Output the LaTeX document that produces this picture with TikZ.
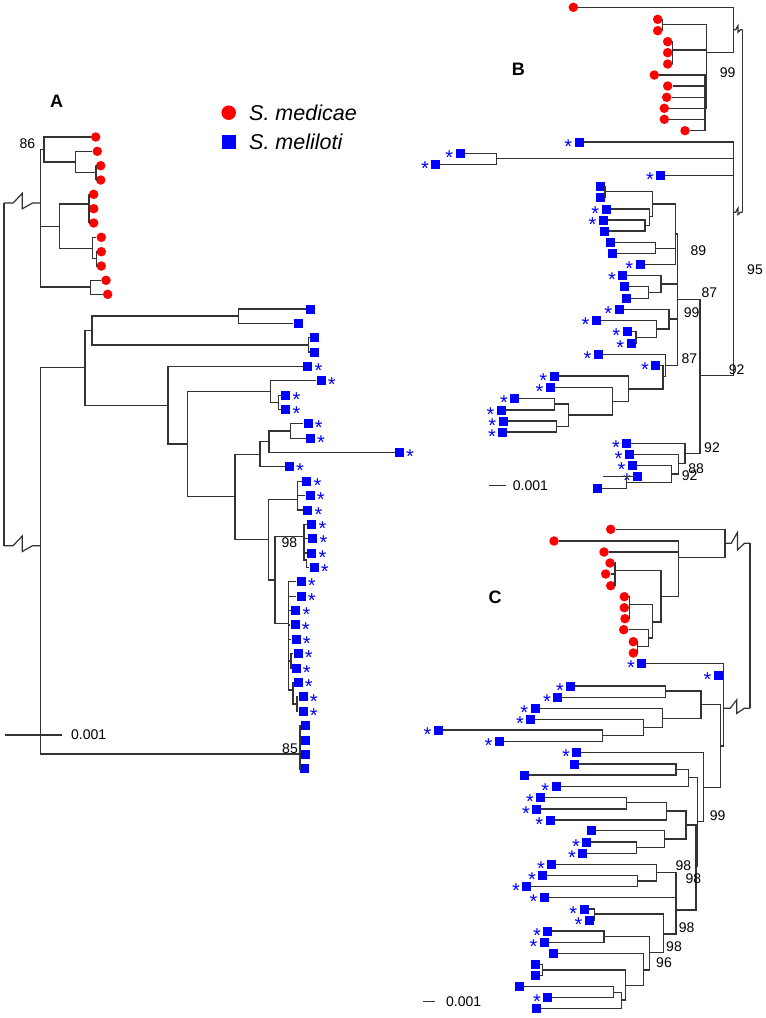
\documentclass[tikz,border=0pt]{standalone}
\usepackage{fontspec}
\setmainfont{Liberation Sans}
\usetikzlibrary{calc}
\newcommand\astx{\raisebox{-.56em}[.15em][.15em]{*}}
\tikzset{
  branch/.style={draw=black!80, line width=1.2pt},
  med/.style={circle, fill=red, inner sep=0pt, minimum size=9.5pt},
  mel/.style={rectangle, fill=blue, inner sep=0pt, minimum size=9pt},
  ast/.style={text=blue, inner sep=0pt, font=\fontsize{20}{20}\selectfont},
  sR/.style={label={[ast]right:\astx}},
  sL/.style={label={[ast]left:\astx}},
  boot/.style={inner sep=0pt, font=\fontsize{14}{14}\selectfont},
  panel/.style={inner sep=0pt, font=\fontsize{18}{18}\selectfont\bfseries},
  legtext/.style={inner sep=0pt, anchor=west, font=\fontsize{21.5}{21.5}\selectfont\itshape},
}
\newcommand\clade[2]{\foreach \kid in {#2}{\draw[branch] (\kid) -| (#1);}}
\newcommand\brokenlink[3]{\draw[branch] (#1) -- ($(#1)!.25!(#2)$) -- ($(#1)!.5!(#2)+(0,-#3)$) -- ($(#1)!.5!(#2)+(0,.6*#3)$) -- ($(#1)!.78!(#2)$) -- (#2);}

\begin{document}
\begin{tikzpicture}[x=1pt,y=-1pt,label distance=2pt,font=\fontsize{14}{14}\selectfont]
\useasboundingbox (0,0) rectangle (766,1018);

% panel A
\node[panel] (labA) at (56.7,101) {A};
\node[med, minimum size=14.5pt] (keyMed) at (228.7,112.7) {};
\node[legtext] (keyMedT) at (249,112.7) {S. medicae};
\node[mel, minimum size=14pt] (keyMel) at (228.7,142) {};
\node[legtext] (keyMelT) at (249,142) {S. meliloti};

\node[med] (aL1) at (95.7,137) {};
\node[med] (aL2) at (97.3,151.3) {};
\node[med] (aL3) at (100.7,165.7) {};
\node[med] (aL4) at (100.7,180) {};
\node[med] (aL5) at (93.7,194.3) {};
\node[med] (aL6) at (93.7,208.7) {};
\node[med] (aL7) at (93.7,223) {};
\node[med] (aL8) at (101.3,237.3) {};
\node[med] (aL9) at (101.3,251.7) {};
\node[med] (aL10) at (101.3,266) {};
\node[med] (aL11) at (106,280.3) {};
\node[med] (aL12) at (107.7,294.3) {};

\node[mel] (bL1) at (310.3,309) {};
\node[mel] (bL2) at (298,323.3) {};
\node[mel] (bL3) at (314.3,337.7) {};
\node[mel] (bL4) at (314.3,352) {};
\node[mel,sR] (bL5) at (307.7,366.7) {};
\node[mel,sR] (bL6) at (321,380.7) {};
\node[mel,sR] (bL7) at (285.7,395.3) {};
\node[mel,sR] (bL8) at (285.7,409.7) {};
\node[mel,sR] (bL9) at (308,423.7) {};
\node[mel,sR] (bL10) at (310.3,438.3) {};
\node[mel,sR] (bL11) at (399.3,452.3) {};
\node[mel,sR] (bL12) at (289.3,466.3) {};
\node[mel,sR] (bL13) at (306.7,481.3) {};
\node[mel,sR] (bL14) at (310,495.7) {};
\node[mel,sR] (bL15) at (307.7,510) {};
\node[mel,sR] (bL16) at (311.7,524.3) {};
\node[mel,sR] (bL17) at (312.7,538.7) {};
\node[mel,sR] (bL18) at (311.7,553) {};
\node[mel,sR] (bL19) at (314,567.3) {};
\node[mel,sR] (bL20) at (301,581.7) {};
\node[mel,sR] (bL21) at (301,596.1) {};
\node[mel,sR] (bL22) at (295.7,610.5) {};
\node[mel,sR] (bL23) at (295,624.9) {};
\node[mel,sR] (bL24) at (296,639.3) {};
\node[mel,sR] (bL25) at (298,653.7) {};
\node[mel,sR] (bL26) at (296,668.1) {};
\node[mel,sR] (bL27) at (298,682.5) {};
\node[mel,sR] (bL28) at (303,696.9) {};
\node[mel,sR] (bL29) at (303,711.3) {};
\node[mel] (bL30) at (305,725.7) {};
\node[mel] (bL31) at (305,740.1) {};
\node[mel] (bL32) at (305,754.5) {};
\node[mel] (bL33) at (304,768.9) {};

\coordinate (a1) at (44,149.3);
\coordinate (a2) at (75.3,162);
\coordinate (a3) at (96,172.8);
\coordinate (a4) at (59.3,226.7);
\coordinate (a5) at (89,204);
\coordinate (a6) at (92.7,248.3);
\coordinate (a7) at (96.7,258.8);
\coordinate (a8) at (90.7,287);
\coordinate (aRoot) at (40.5,203);
\coordinate (b1) at (85,367.7);
\coordinate (b2) at (92,330.3);
\coordinate (b3) at (238.7,316);
\coordinate (b4) at (308.7,345);
\coordinate (b5) at (168,405.3);
\coordinate (b6) at (187.3,444);
\coordinate (b7) at (270.7,391.3);
\coordinate (b8) at (278.3,402.5);
\coordinate (b9) at (269,441.5);
\coordinate (b10) at (290.3,431);
\coordinate (b11) at (260,454.3);
\coordinate (b12) at (235,496.7);
\coordinate (b13) at (268.3,539.3);
\coordinate (b14) at (297.7,499.3);
\coordinate (b15) at (275,580);
\coordinate (b16) at (304,536.7);
\coordinate (b16a) at (306.5,560);
\coordinate (b17) at (288.7,623.3);
\coordinate (b18) at (291,661);
\coordinate (b19) at (293,690);
\coordinate (b20) at (297,704);
\coordinate (b21) at (300,754);
\coordinate (bRoot) at (40.5,545.7);
\coordinate (ArT) at (4,203);
\coordinate (ArB) at (4,545.7);

\clade{a3}{aL3,aL4}
\clade{a2}{aL2,a3}
\clade{a1}{aL1,a2}
\clade{a5}{aL5,aL6,aL7}
\clade{a7}{aL9,aL10}
\clade{a6}{aL8,a7}
\clade{a4}{a5,a6}
\clade{a8}{aL11,aL12}
\clade{aRoot}{a1,a4,a8}
\clade{b3}{bL1,bL2}
\clade{b4}{bL3,bL4}
\clade{b2}{b3,b4}
\clade{b8}{bL7,bL8}
\clade{b7}{bL6,b8}
\clade{b10}{bL9,bL10}
\clade{b9}{b10,bL11}
\clade{b11}{b9,bL12}
\clade{b14}{bL13,bL14,bL15}
\clade{b16a}{bL19}
\clade{b16}{bL16,bL17,bL18,b16a}
\clade{b18}{bL25,bL26}
\clade{b20}{bL28,bL29}
\clade{b19}{bL27,b20}
\clade{b17}{bL20,bL21,bL22,bL23,bL24,b18,b19}
\clade{b15}{b16,b17}
\clade{b13}{b14,b15}
\clade{b12}{b11,b13}
\clade{b6}{b7,b12}
\clade{b5}{bL5,b6}
\clade{b1}{b2,b5}
\clade{b21}{bL30,bL31,bL32,bL33}
\clade{bRoot}{b1,b21}
\draw[branch] (ArT) -- (ArB);
\brokenlink{ArT}{aRoot}{9.7}
\brokenlink{ArB}{bRoot}{9.7}

\node[boot] (bsA86) at (27.3,143.3) {86};
\node[boot] (bsA98) at (289.3,542.7) {98};
\node[boot] (bsA85) at (290,749) {85};
\coordinate (scAl) at (5,735);
\coordinate (scAr) at (62,735);
\draw[branch] (scAl) -- (scAr);
\node[boot, anchor=west] (scAt) at (71,735) {0.001};

% panel B
\node[panel] (labB) at (518.3,69.3) {B};
\node[med] (BR1) at (573.3,7.3) {};
\node[med] (BR2) at (657.7,19.3) {};
\node[med] (BR3) at (657.7,30.7) {};
\node[med] (BR4) at (667.7,41.7) {};
\node[med] (BR5) at (667.7,52.7) {};
\node[med] (BR6) at (667.7,64) {};
\node[med] (BR7) at (654.3,75) {};
\node[med] (BR8) at (667.7,86) {};
\node[med] (BR9) at (666.7,97.3) {};
\node[med] (BR10) at (664.3,108.3) {};
\node[med] (BR11) at (664.3,119.3) {};
\node[med] (BR12) at (685,130.7) {};

\node[mel,sL] (BB1) at (579,142) {};
\node[mel,sL] (BB2) at (460,153.7) {};
\node[mel,sL] (BB3) at (435.7,164.3) {};
\node[mel,sL] (BB4) at (660.7,175.3) {};
\node[mel] (BB5) at (600,186.7) {};
\node[mel] (BB6) at (600,197.7) {};
\node[mel,sL] (BB7) at (606,209) {};
\node[mel,sL] (BB8) at (603.3,220) {};
\node[mel] (BB9) at (604.3,231) {};
\node[mel] (BB10) at (610.7,242.5) {};
\node[mel] (BB11) at (612,253.3) {};
\node[mel,sL] (BB12) at (640,264.3) {};
\node[mel,sL] (BB13) at (622.7,275.7) {};
\node[mel] (BB14) at (624.3,286.7) {};
\node[mel] (BB15) at (626.3,298.3) {};
\node[mel,sL] (BB16) at (619,309.3) {};
\node[mel,sL] (BB17) at (596.3,320.7) {};
\node[mel,sL] (BB18) at (627,331.7) {};
\node[mel,sL] (BB19) at (631,343) {};
\node[mel,sL] (BB20) at (598.3,354.3) {};
\node[mel,sL] (BB21) at (655.7,365.3) {};
\node[mel,sL] (BB22) at (554,376) {};
\node[mel,sL] (BB23) at (550.3,387.7) {};
\node[mel,sL] (BB24) at (514.7,398.7) {};
\node[mel,sL] (BB25) at (501.3,410) {};
\node[mel,sL] (BB26) at (503,421) {};
\node[mel,sL] (BB27) at (502.7,432) {};
\node[mel,sL] (BB28) at (626.7,443.3) {};
\node[mel,sL] (BB29) at (629.3,454.3) {};
\node[mel,sL] (BB30) at (632.3,465.7) {};
\node[mel,sL] (BB31) at (637.7,476.7) {};
\node[mel] (BB32) at (597.7,488.3) {};

\coordinate (p1) at (662.7,24.3);
\coordinate (p2) at (672.7,50);
\coordinate (p3) at (705,108.3);
\coordinate (p4) at (706.7,52.3);
\coordinate (pr) at (733.3,29.8);
\coordinate (qq) at (496.7,158.7);
\coordinate (q1) at (605,191.7);
\coordinate (q2) at (645,225.7);
\coordinate (q3) at (649.3,216.7);
\coordinate (q4) at (652.3,204);
\coordinate (q6) at (655.7,248.3);
\coordinate (q89) at (675.3,234);
\coordinate (q7a) at (648.3,292.3);
\coordinate (q7) at (661,284);
\coordinate (q8a) at (636,337.3);
\coordinate (q8b) at (656.7,329);
\coordinate (q8) at (669,319);
\coordinate (e1) at (554.3,404);
\coordinate (e2) at (556.7,426.7);
\coordinate (e3) at (568.3,415);
\coordinate (e4) at (612.3,401.3);
\coordinate (e5) at (628.3,389);
\coordinate (e6) at (663,376.7);
\coordinate (e7) at (665.7,365.7);
\coordinate (P1) at (677.7,299.7);
\coordinate (BBs) at (603.3,476.7);
\coordinate (g0) at (626.7,482.3);
\coordinate (g1) at (671.7,474);
\coordinate (g2) at (678.3,463.3);
\coordinate (g3) at (685,453.3);
\coordinate (P2) at (700,375.7);
\coordinate (pb) at (733.3,212.3);
\coordinate (BrT) at (742.5,29.8);
\coordinate (BrB) at (742.5,212.3);

\clade{p1}{BR2,BR3}
\clade{p2}{BR4,BR5,BR6}
\clade{p3}{BR7,BR8,BR9,BR10,BR11,BR12}
\clade{p4}{p1,p2,p3}
\clade{pr}{BR1,p4}
\clade{qq}{BB2,BB3}
\clade{q1}{BB5,BB6}
\clade{q2}{BB8,BB9}
\clade{q3}{BB7,q2}
\clade{q4}{q1,q3}
\clade{q6}{BB10,BB11}
\clade{q89}{q4,q6,BB12}
\clade{q7a}{BB14,BB15}
\clade{q7}{BB13,q7a}
\clade{q8a}{BB18,BB19}
\clade{q8b}{BB17,q8a}
\clade{q8}{BB16,q8b}
\clade{e1}{BB24,BB25}
\clade{e2}{BB26,BB27}
\clade{e3}{e1,e2}
\clade{e4}{BB23,e3}
\clade{e5}{BB22,e4}
\clade{e6}{BB21,e5}
\clade{e7}{BB20,e6}
\clade{P1}{q89,q7,q8,e7}
\clade{g0}{BBs,BB31,BB32}
\clade{g1}{BB30,g0}
\clade{g2}{BB29,g1}
\clade{g3}{BB28,g2}
\clade{P2}{P1,g3}
\clade{pb}{BB1,qq,BB4,P2}
\draw[branch] (BrT) -- (BrB);
\brokenlink{pr}{BrT}{4}
\brokenlink{pb}{BrB}{4}

\node[boot] (bsB99a) at (727.7,72.7) {99};
\node[boot] (bsB89) at (698.3,250.7) {89};
\node[boot] (bsB87a) at (709.3,292.7) {87};
\node[boot] (bsB99b) at (691.7,312.3) {99};
\node[boot] (bsB87b) at (689.3,358.3) {87};
\node[boot] (bsB92a) at (736.7,370) {92};
\node[boot] (bsB95) at (755,269.3) {95};
\node[boot] (bsB92b) at (712,447.8) {92};
\node[boot] (bsB88) at (696.2,468.3) {88};
\node[boot] (bsB92c) at (689.7,475.3) {92};
\coordinate (scBl) at (489.3,485.3);
\coordinate (scBr) at (506,485.3);
\draw[branch] (scBl) -- (scBr);
\node[boot, anchor=west] (scBt) at (512.7,485.3) {0.001};

% panel C
\node[panel] (labC) at (495,597.3) {C};
\node[med] (CR1) at (610.7,529.3) {};
\node[med] (CR2) at (554,541) {};
\node[med] (CR3) at (604,552) {};
\node[med] (CR4) at (610,563) {};
\node[med] (CR5) at (605.7,574) {};
\node[med] (CR6) at (610.7,585.7) {};
\node[med] (CR7) at (624.3,596.7) {};
\node[med] (CR8) at (624.3,607.7) {};
\node[med] (CR9) at (625,618.7) {};
\node[med] (CR10) at (623.7,629.7) {};
\node[med] (CR11) at (633.3,641.7) {};
\node[med] (CR12) at (633.3,653) {};

\node[mel,sL] (CB1) at (641.7,663.3) {};
\node[mel,sL] (CB2) at (718.3,675.7) {};
\node[mel,sL] (CB3) at (570.7,686) {};
\node[mel,sL] (CB4) at (557.7,697.3) {};
\node[mel,sL] (CB5) at (535,708.3) {};
\node[mel,sL] (CB6) at (530.7,719.3) {};
\node[mel,sL] (CB7) at (438.3,730) {};
\node[mel,sL] (CB8) at (499.3,741.7) {};
\node[mel,sL] (CB9) at (576.7,752.7) {};
\node[mel] (CB10) at (574,764) {};
\node[mel] (CB11) at (524,775) {};
\node[mel,sL] (CB12) at (556,786.7) {};
\node[mel,sL] (CB13) at (540.7,797.7) {};
\node[mel,sL] (CB14) at (536.7,809) {};
\node[mel,sL] (CB15) at (550,820) {};
\node[mel] (CB16) at (591,830.7) {};
\node[mel,sL] (CB17) at (586.7,842) {};
\node[mel,sL] (CB18) at (582.7,853.3) {};
\node[mel,sL] (CB19) at (551.7,864.3) {};
\node[mel,sL] (CB20) at (542.7,875.7) {};
\node[mel,sL] (CB21) at (526.7,886.7) {};
\node[mel,sL] (CB22) at (544.3,897.7) {};
\node[mel,sL] (CB23) at (584,909) {};
\node[mel,sL] (CB24) at (589.3,920.3) {};
\node[mel,sL] (CB25) at (547.7,931) {};
\node[mel,sL] (CB26) at (544.3,942.3) {};
\node[mel] (CB27) at (553.3,953.3) {};
\node[mel] (CB28) at (535.7,964.3) {};
\node[mel] (CB29) at (535.7,975.7) {};
\node[mel] (CB30) at (519,986.7) {};
\node[mel,sL] (CB31) at (547.7,997.7) {};
\node[mel] (CB32) at (536.7,1008.7) {};

\coordinate (k0) at (725,543.3);
\coordinate (k1) at (678.3,557.7);
\coordinate (k2) at (661,596.7);
\coordinate (k3) at (615,570.7);
\coordinate (k4) at (652.3,622);
\coordinate (k5) at (629.3,604.7);
\coordinate (k6) at (637.3,646.7);
\coordinate (k7) at (648.3,638);
\coordinate (m0) at (723.5,708.3);
\coordinate (m1) at (720.7,746);
\coordinate (m2) at (701,704.3);
\coordinate (m3) at (703.3,787.7);
\coordinate (m4) at (665.7,691);
\coordinate (m6) at (602.7,735.7);
\coordinate (m7) at (643.3,727.7);
\coordinate (m8) at (662.3,718.3);
\coordinate (m9) at (676,769.3);
\coordinate (m10) at (688.3,777.7);
\coordinate (m11) at (697.7,821.7);
\coordinate (n1) at (626.7,802.7);
\coordinate (n2) at (666.7,811);
\coordinate (n3) at (636.7,847.7);
\coordinate (n4) at (664.3,839);
\coordinate (n5) at (686,825);
\coordinate (n6) at (637.3,881);
\coordinate (n7) at (656.7,872.3);
\coordinate (n8) at (676,910);
\coordinate (n10) at (696,866.7);
\coordinate (n11) at (594.3,914);
\coordinate (n12) at (604,936.7);
\coordinate (n13) at (542.3,970);
\coordinate (n14) at (613.3,992.3);
\coordinate (n15) at (621.7,1000);
\coordinate (n16) at (625.7,985.7);
\coordinate (n17) at (643.3,970);
\coordinate (n18) at (649.3,952.7);
\coordinate (n19) at (663.3,934);
\coordinate (CrT) at (750,543.3);
\coordinate (CrB) at (750,708.3);

\clade{k3}{CR4,CR5,CR6}
\clade{k5}{CR7,CR8,CR9}
\clade{k6}{CR11,CR12}
\clade{k7}{CR10,k6}
\clade{k4}{k5,k7}
\clade{k2}{k3,k4}
\clade{k1}{CR2,CR3,k2}
\clade{k0}{CR1,k1}
\clade{m4}{CB3,CB4}
\clade{m6}{CB7,CB8}
\clade{m7}{CB6,m6}
\clade{m8}{CB5,m7}
\clade{m2}{m4,m8}
\clade{m9}{CB10,CB11}
\clade{m10}{m9,CB12}
\clade{n1}{CB13,CB14}
\clade{n2}{n1,CB15}
\clade{n3}{CB17,CB18}
\clade{n4}{CB16,n3}
\clade{n5}{n2,n4}
\clade{n6}{CB20,CB21}
\clade{n7}{CB19,n6}
\clade{n11}{CB23,CB24}
\clade{n12}{CB25,CB26}
\clade{n13}{CB28,CB29}
\clade{n14}{CB30,CB31}
\clade{n15}{n14,CB32}
\clade{n16}{n13,n15}
\clade{n17}{CB27,n16}
\clade{n18}{n12,n17}
\clade{n19}{n11,n18}
\clade{n8}{n7,CB22,n19}
\clade{n10}{n5,n8}
\clade{m11}{m10,n10}
\clade{m3}{CB9,m11}
\clade{m1}{m2,m3}
\clade{m0}{CB1,CB2,m1}
\draw[branch] (CrT) -- (CrB);
\brokenlink{k0}{CrT}{11}
\brokenlink{m0}{CrB}{8.5}

\node[boot] (bsC99) at (717.7,816) {99};
\node[boot] (bsC98a) at (683.3,866) {98};
\node[boot] (bsC98b) at (693.3,878.3) {98};
\node[boot] (bsC98c) at (686.7,927.3) {98};
\node[boot] (bsC98d) at (674,946.7) {98};
\node[boot] (bsC96) at (664,962.7) {96};
\coordinate (scCl) at (423,1001.7);
\coordinate (scCr) at (435,1001.7);
\draw[branch] (scCl) -- (scCr);
\node[boot, anchor=west] (scCt) at (446,1001.7) {0.001};
\end{tikzpicture}
\end{document}
